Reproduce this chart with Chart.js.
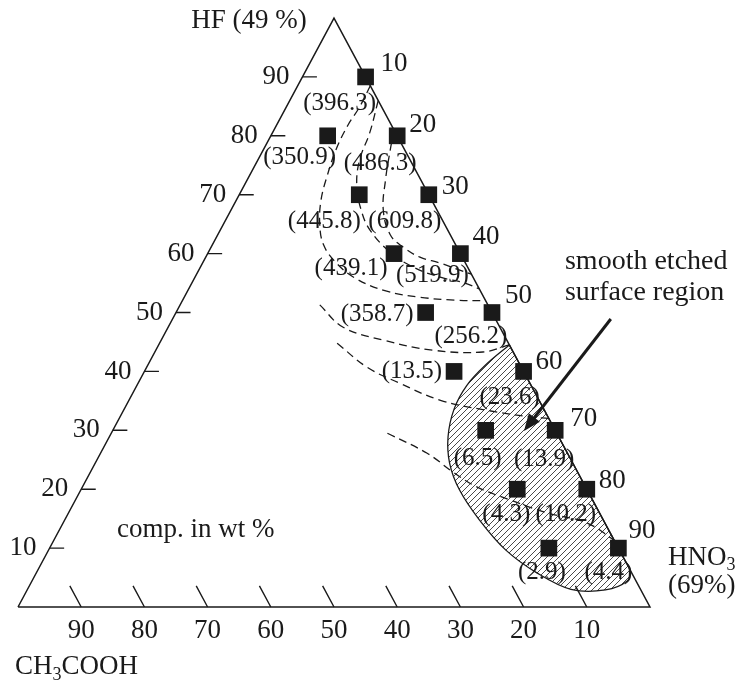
<!DOCTYPE html>
<html>
<head>
<meta charset="utf-8">
<script src="https://cdn.jsdelivr.net/npm/chart.js@4.4.1/dist/chart.umd.min.js"></script>
<style>
  html, body { margin: 0; padding: 0; background: #fff; }
  canvas { display: block; }
</style>
</head>
<body>
<canvas id="tern" width="743" height="686"></canvas>
<script>
// HF / HNO3 / CH3COOH etchant triangle, compositions in wt %
const tickValues = [10, 20, 30, 40, 50, 60, 70, 80, 90];

// mixtures on the HF-HNO3 side (no acetic acid), by HNO3 content
const edgeHNO3 = [10, 20, 30, 40, 50, 60, 70, 80, 90];
const edgeRate = [396.3, 486.3, 609.8, 519.9, 256.2, 23.6, 13.9, 10.2, 4.4];

// mixtures with a little CH3COOH, by HF content
const innerHF = [80, 70, 60, 50, 40, 30, 20, 10];
const innerAcetic = [11, 11, 10.5, 10.5, 11, 11, 11, 11];
const innerRate = [350.9, 445.8, 439.1, 358.7, 13.5, 6.5, 4.3, 2.9];

// iso-rate contours, [HF, CH3COOH] pairs
const contourA = [[81, 0], [77.6, 2.3], [72.5, 5.6], [67.4, 8.5], [63.2, 9.5], [61.1, 8.5], [59.4, 6.7], [58.4, 4.0], [57.2, 1.5], [56.5, 0]];
const contourB = [[86, 0], [80.5, 4.1], [75.9, 8.0], [71.6, 10.6], [67.4, 12.0], [64.0, 12.3], [60.3, 11.0], [57.7, 8.6], [56.0, 5.2], [55.0, 1.8], [54, 0]];
const contourC = [[88.5, 0], [84.9, 3.5], [81.8, 6.9], [77.6, 10.9], [73.3, 14.4], [69.1, 17.5], [64.9, 19.8], [61.5, 20.9], [58.6, 20.5], [55.9, 18.8], [53.7, 15.1], [52.6, 10.1], [52.1, 4.8], [52, 0]];
const contourD = [[51.3, 26.6], [47.5, 24.8], [45.3, 19.5], [43.6, 12.5], [43.3, 4.8], [44.5, 0]];
const contourE = [[44.8, 27.1], [40.7, 24.4], [38.0, 20.6], [35.1, 15.6], [33.4, 9.1], [32.3, 2.9], [32, 0]];
const contourF = [[29.5, 26.8], [26.1, 22.2], [22.9, 19.7], [20.4, 17.2], [18.2, 13.1], [16.0, 8.3], [14.3, 2.9], [11.4, 0]];

// outline of the smooth etched surface region, [HF, CH3COOH]
const smoothRegion = [[44.5, 0], [41.0, 5.6], [37.6, 10.2], [33.6, 14.2], [28.9, 17.5], [24.4, 19.5], [19.9, 20.2], [14.8, 19.6], [9.7, 18.0], [5.8, 15.0], [3.0, 11.0], [2.9, 5.6], [4.4, 1.4], [6.3, 0], [8, 0], [25, 0], [43, 0], [44.5, 0]];

const FONT = '"Liberation Serif", "Times New Roman", serif';
const INK = '#1a1a1a';

// ternary -> cartesian: CH3COOH corner at x=0, HNO3 corner at x=100, HF apex at y=100
const tern = (hf, ac) => ({ x: 100 - ac - hf / 2, y: hf });
const curve = pairs => pairs.map(([hf, ac]) => tern(hf, ac));
const GAP = { x: null, y: null };

const edgePoints = edgeHNO3.map(n => tern(100 - n, 0));
const innerPoints = innerHF.map((hf, i) => tern(hf, innerAcetic[i]));

const hfTicks = tickValues.flatMap(t => [tern(t, 100 - t), tern(t, 100 - t - 2.3), GAP]);
const acTicks = tickValues.flatMap(a => [tern(0, a), tern(3.6, a), GAP]);

// label placement around the squares (pixels)
const edgeNumOff = [[15, -13], [12, -11], [13, -8], [12, -17], [13, -17], [12, -10], [15, -11], [12, -8], [10, -17]];
const edgeRateOff = [[-26, 27], [-17, 28], [-24, 27], [-28, 22], [-21, 24], [-14, 26], [-11, 29], [-21, 25], [-10, 24]];
const innerRateOff = [[-28, 22, 'center'], [-35, 27, 'center'], [-43, 15, 'center'], [-12, 2, 'right'], [-12, 0, 'right'], [-8, 28, 'center'], [-11, 25, 'center'], [-7, 24, 'center']];

function hatch(ctx) {
  const c = document.createElement('canvas');
  c.width = 6; c.height = 6;
  const g = c.getContext('2d');
  g.strokeStyle = '#4a4a4a';
  g.lineWidth = 1;
  g.beginPath();
  g.moveTo(0, 6); g.lineTo(6, 0);
  g.moveTo(-1, 1); g.lineTo(1, -1);
  g.moveTo(5, 7); g.lineTo(7, 5);
  g.stroke();
  return ctx.createPattern(c, 'repeat');
}

const canvas = document.getElementById('tern');
const hatchFill = hatch(canvas.getContext('2d'));

const lineDs = (data, extra) => Object.assign({
  data, showLine: true, pointRadius: 0, borderColor: INK, borderWidth: 1.4,
  fill: false, spanGaps: false, tension: 0
}, extra);

const dashed = data => lineDs(curve(data), { borderDash: [8, 5], borderWidth: 1.3, tension: 0.4, order: 3 });

function chem(ctx, parts, x, y, size) {
  ctx.textAlign = 'left';
  ctx.textBaseline = 'alphabetic';
  let cx = x;
  for (const [s, sub] of parts) {
    ctx.font = (sub ? Math.round(size * 0.68) : size) + 'px ' + FONT;
    ctx.fillText(s, cx, y + (sub ? size * 0.2 : 0));
    cx += ctx.measureText(s).width;
  }
}

const regionFill = {
  id: 'regionFill',
  beforeDatasetDraw(chart, args) {
    if (args.meta.dataset && chart.data.datasets[args.index].id === 'region') {
      const ctx = chart.ctx, line = args.meta.dataset;
      line.updateControlPoints(chart.chartArea, 'x');
      ctx.save();
      ctx.beginPath();
      line.path(ctx);
      ctx.closePath();
      ctx.fillStyle = hatchFill;
      ctx.fill();
      ctx.restore();
    }
  }
};

const labels = {
  id: 'labels',
  afterDatasetsDraw(chart) {
    const ctx = chart.ctx, sx = chart.scales.x, sy = chart.scales.y;
    const P = p => [sx.getPixelForValue(p.x), sy.getPixelForValue(p.y)];
    const put = (s, x, y, size, align, base) => {
      ctx.font = size + 'px ' + FONT;
      ctx.textAlign = align || 'center';
      ctx.textBaseline = base || 'middle';
      ctx.fillText(s, x, y);
    };
    ctx.save();
    ctx.fillStyle = INK;

    // HF scale on the left side
    tickValues.forEach(t => {
      const [x, y] = P(tern(t, 100 - t));
      put(String(t), x - 13, y, 27, 'right');
    });
    // CH3COOH scale along the base
    tickValues.forEach(a => {
      const [x, y] = P(tern(0, a));
      put(String(a), x, y + 24, 27);
    });

    edgePoints.forEach((p, i) => {
      const [x, y] = P(p);
      put(String(edgeHNO3[i]), x + edgeNumOff[i][0], y + edgeNumOff[i][1], 27, 'left');
      put('(' + edgeRate[i].toFixed(1) + ')', x + edgeRateOff[i][0], y + edgeRateOff[i][1], 25);
    });
    innerPoints.forEach((p, i) => {
      const [x, y] = P(p);
      const o = innerRateOff[i];
      put('(' + innerRate[i].toFixed(1) + ')', x + o[0], y + o[1], 25, o[2]);
    });

    // corner names
    let [x, y] = P({ x: 45.7, y: 98.3 });
    put('HF (49 %)', x, y, 27, 'right', 'alphabetic');
    [x, y] = P({ x: 102.85, y: 7.13 });
    chem(ctx, [['HNO', 0], ['3', 1]], x, y, 27);
    [x, y] = P({ x: 102.85, y: 2.38 });
    put('(69%)', x, y, 27, 'left', 'alphabetic');
    [x, y] = P({ x: -0.47, y: -11.4 });
    chem(ctx, [['CH', 0], ['3', 1], ['COOH', 0]], x, y, 27);

    [x, y] = P({ x: 15.66, y: 13.07 });
    put('comp. in wt %', x, y, 27, 'left');

    [x, y] = P({ x: 86.55, y: 58.57 });
    put('smooth etched', x, y, 28, 'left');
    [x, y] = P({ x: 86.55, y: 53.3 });
    put('surface region', x, y, 28, 'left');

    // arrow into the hatched region
    const [tx, ty] = P({ x: 93.8, y: 48.9 });
    const [hx, hy] = P({ x: 80.06, y: 29.9 });
    const ang = Math.atan2(hy - ty, hx - tx);
    const len = 17, half = 7;
    const bx = hx - len * Math.cos(ang), by = hy - len * Math.sin(ang);
    ctx.strokeStyle = INK;
    ctx.lineWidth = 3;
    ctx.beginPath();
    ctx.moveTo(tx, ty);
    ctx.lineTo(bx, by);
    ctx.stroke();
    ctx.beginPath();
    ctx.moveTo(hx, hy);
    ctx.lineTo(bx + half * Math.sin(ang), by - half * Math.cos(ang));
    ctx.lineTo(bx - half * Math.sin(ang), by + half * Math.cos(ang));
    ctx.closePath();
    ctx.fill();
    ctx.restore();
  }
};

new Chart(canvas, {
  type: 'scatter',
  data: {
    datasets: [
      { data: edgePoints, pointStyle: 'rect', pointRadius: 11.8, pointBackgroundColor: INK, pointBorderWidth: 0, order: 0 },
      { data: innerPoints, pointStyle: 'rect', pointRadius: 11.8, pointBackgroundColor: INK, pointBorderWidth: 0, order: 0 },
      lineDs([tern(0, 100), tern(0, 0), tern(100, 0), tern(0, 100)], { order: 1, borderWidth: 1.5 }),
      lineDs(hfTicks, { order: 1 }),
      lineDs(acTicks, { order: 1 }),
      dashed(contourA), dashed(contourB), dashed(contourC),
      dashed(contourD), dashed(contourE), dashed(contourF),
      lineDs(curve(smoothRegion), { id: 'region', tension: 0.35, borderWidth: 1.3, order: 4 })
    ]
  },
  options: {
    responsive: false,
    animation: false,
    events: [],
    layout: { padding: 0, autoPadding: false },
    plugins: { legend: { display: false }, tooltip: { enabled: false } },
    scales: {
      x: { type: 'linear', min: -2.85, max: 114.72, display: false },
      y: { type: 'linear', min: -13.41, max: 103.06, display: false }
    }
  },
  plugins: [regionFill, labels]
});
</script>
</body>
</html>
